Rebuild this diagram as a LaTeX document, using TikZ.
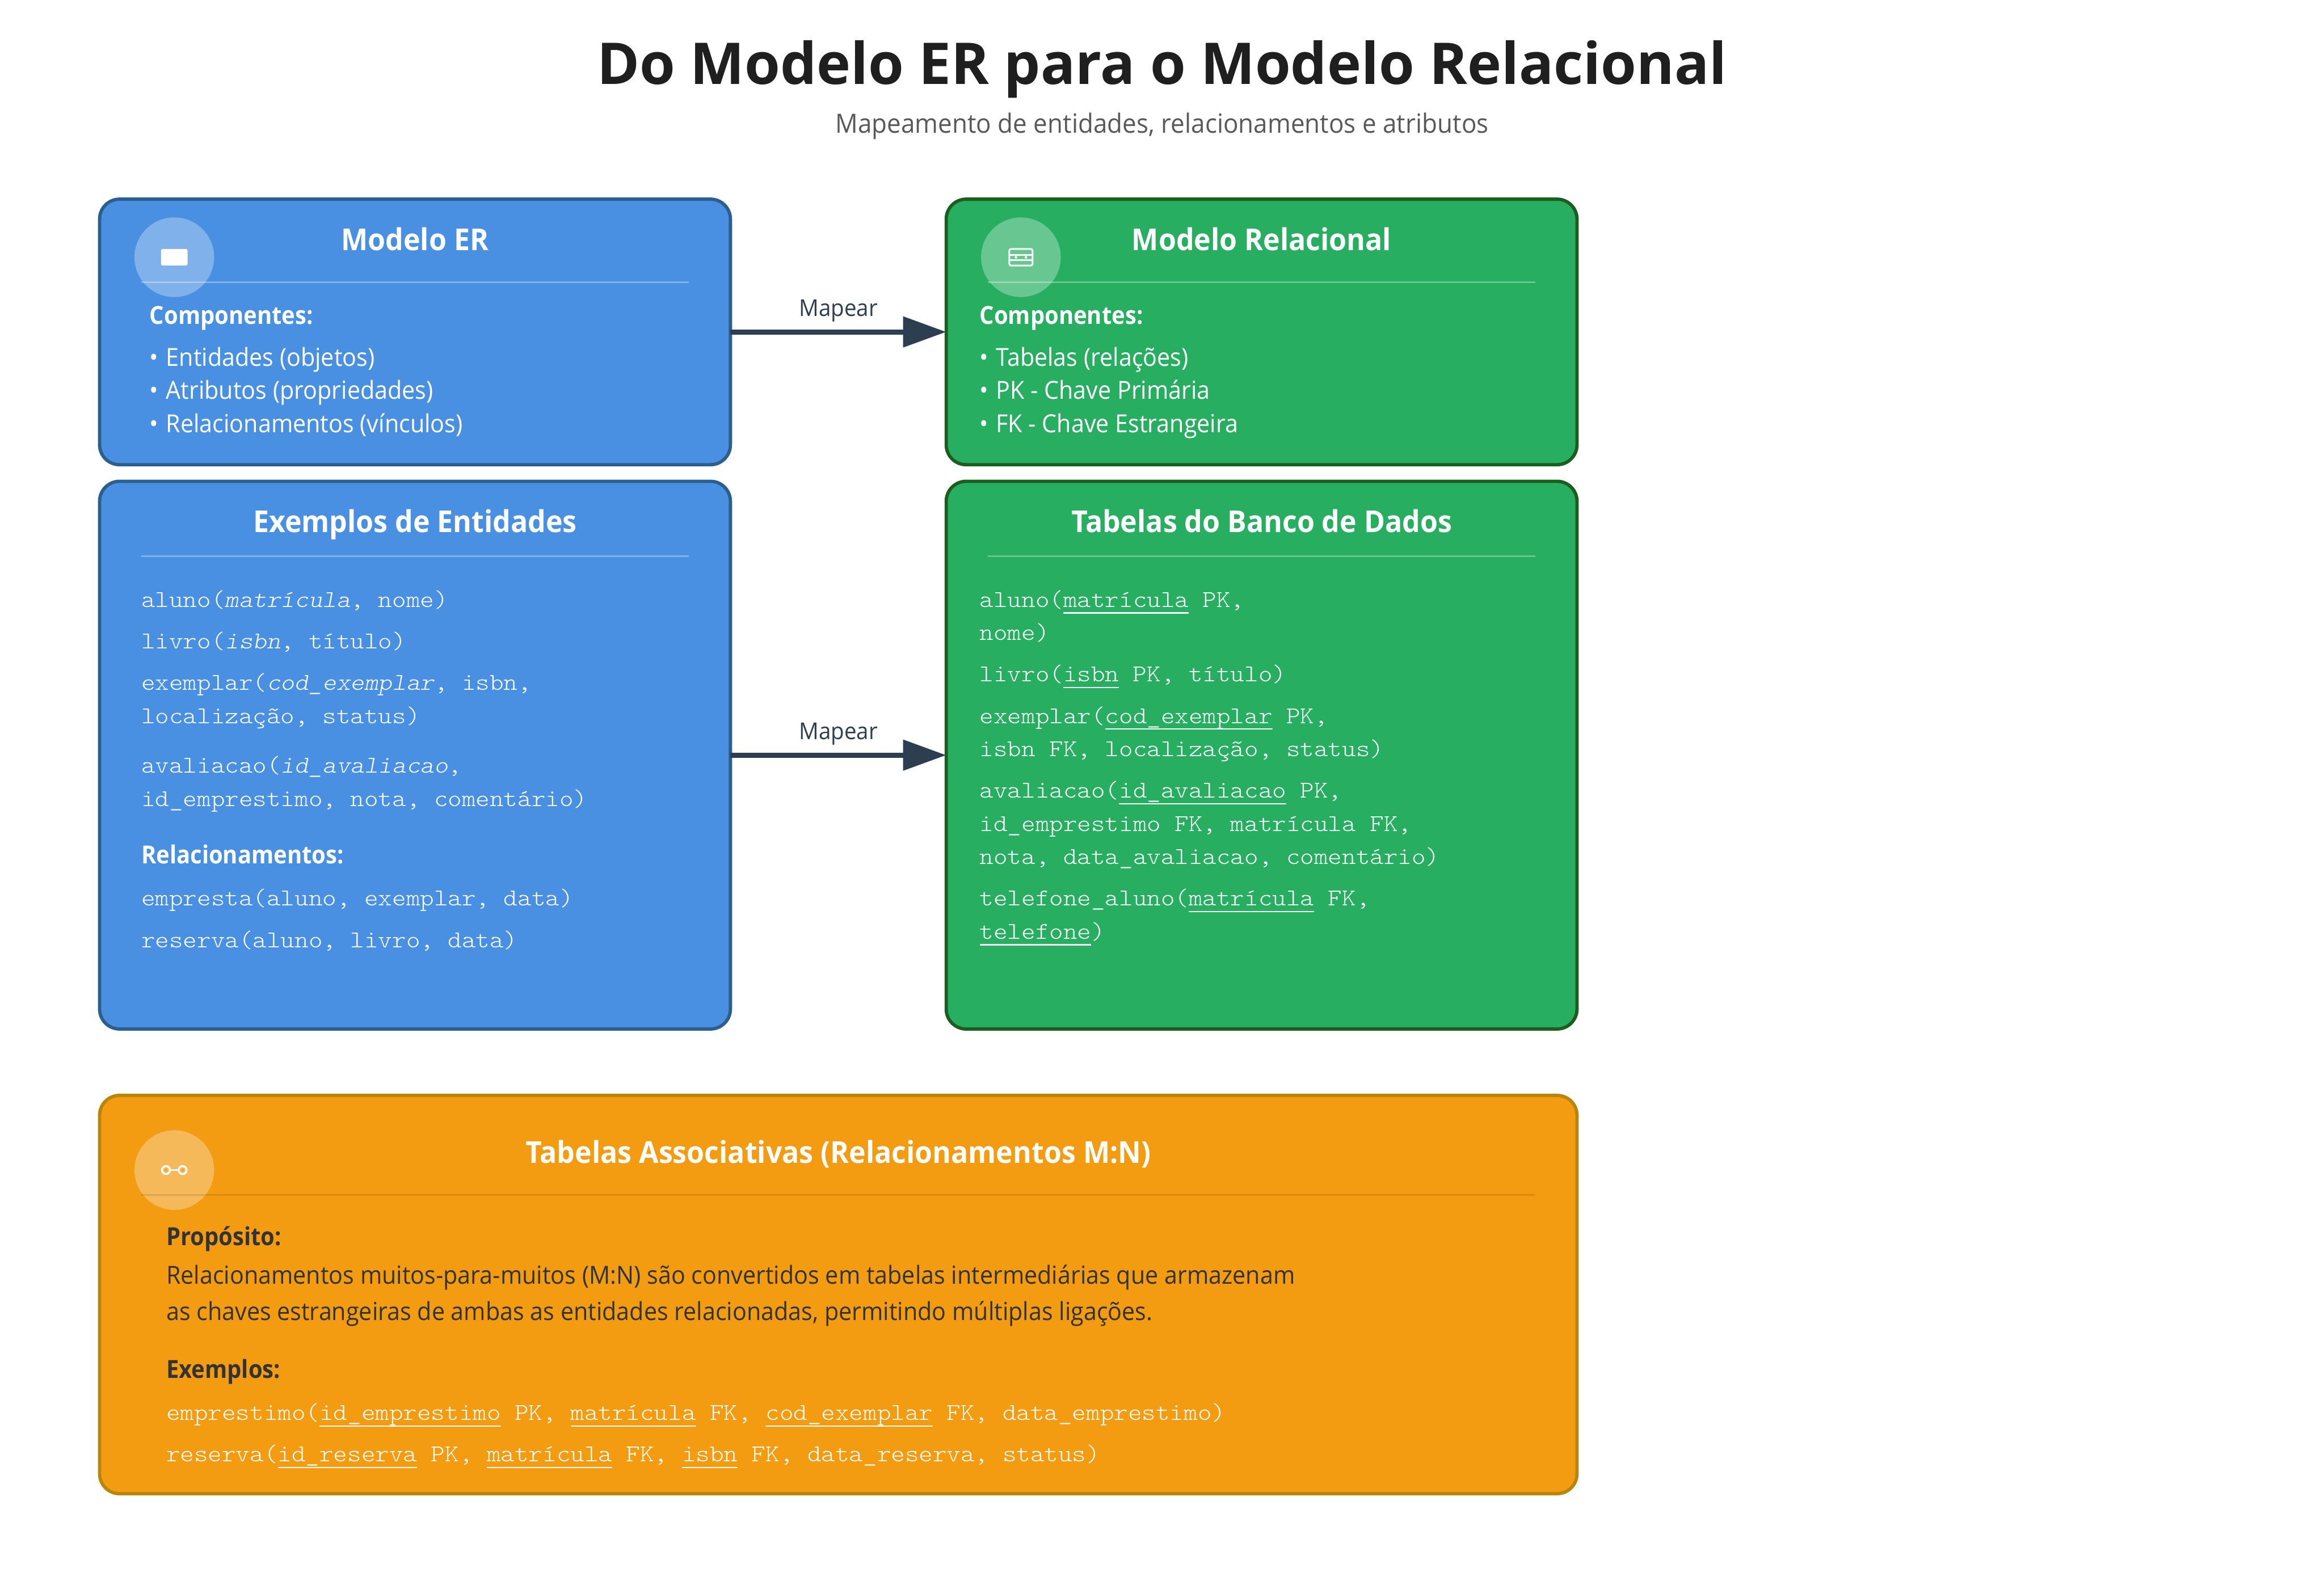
\documentclass[tikz,border=0pt]{standalone}
\usepackage{fontspec}
\setmainfont[FakeStretch=0.94]{Open Sans}
\setmonofont[FakeStretch=1.103]{Latin Modern Mono Light}
\newfontfamily\grande{Open Sans}
\newfontfamily\semi[FakeStretch=0.91]{Open Sans}
\usetikzlibrary{arrows.meta,calc}
\definecolor{azul}{HTML}{4A90E2}
\definecolor{azulborda}{HTML}{2C5F8D}
\definecolor{verde}{HTML}{27AE60}
\definecolor{verdeborda}{HTML}{1B5E20}
\definecolor{laranja}{HTML}{F39C12}
\definecolor{laranjaborda}{HTML}{B8860B}
\definecolor{seta}{HTML}{2C3E50}
\definecolor{escuro}{HTML}{333333}
\newcommand{\chave}[1]{\setbox0\hbox{#1}\rlap{\rule[-3.9pt]{\wd0}{0.8pt}}\box0\relax}
\begin{document}
\begin{tikzpicture}[
    x=1pt, y=-1pt,
    bloco/.style={draw, line width=2pt, rounded corners=12pt, inner sep=0pt, outer sep=0pt, anchor=north west},
    blocoazul/.style={bloco, fill=azul, draw=azulborda},
    blocoverde/.style={bloco, fill=verde, draw=verdeborda},
    blocolaranja/.style={bloco, fill=laranja, draw=laranjaborda},
    titulo/.style={anchor=base, inner sep=0pt, yshift=-0.8pt, text=white, font=\fontsize{18.2}{22}\selectfont\bfseries},
    subtit/.style={anchor=base west, inner sep=0pt, yshift=-0.3pt, text=white, font=\fontsize{15}{19}\selectfont\semi\bfseries},
    corpo/.style={anchor=base west, inner sep=0pt, yshift=-0.5pt, text=white, font=\fontsize{15}{19}\selectfont},
    codigo/.style={anchor=base west, inner sep=0pt, yshift=-0.8pt, text=white, font=\fontsize{14.5}{17}\selectfont\ttfamily},
    divisor/.style={line width=1pt, white, opacity=0.3},
    selo/.style={fill=white, opacity=0.3},
    seta mapa/.style={line width=3pt, seta, -{Triangle[length=26pt,width=18pt]}},
    rotulo/.style={above=4.7pt, inner sep=0pt, text=seta, font=\fontsize{14}{17}\selectfont}
]
\useasboundingbox (0,0) rectangle (1400,950);
\fill[white] (0,0) rectangle (1400,950);
\node[anchor=base, inner sep=0pt, yshift=-0.8pt, text=black!88, font=\fontsize{34.7}{42}\selectfont\grande\bfseries] (titulo geral) at (700,50) {Do Modelo ER para o Modelo Relacional};
\node[anchor=base, inner sep=0pt, text=black!65, font=\fontsize{16}{20}\selectfont] (subtitulo) at (700,80) {Mapeamento de entidades, relacionamentos e atributos};

% caixas
\node[blocoazul, minimum width=380pt, minimum height=160pt] (er) at (60,120) {};
\node[blocoverde, minimum width=380pt, minimum height=160pt] (rel) at (570,120) {};
\node[blocoazul, minimum width=380pt, minimum height=330pt] (ent) at (60,290) {};
\node[blocoverde, minimum width=380pt, minimum height=330pt] (tab) at (570,290) {};
\node[blocolaranja, minimum width=890pt, minimum height=240pt] (assoc) at (60,660) {};

% setas
\draw[seta mapa] (er.east) -- node[rotulo] (mapa1) {Mapear} (rel.west);
\draw[seta mapa] (ent.east) -- node[rotulo] (mapa2) {Mapear} (tab.west);

% icones
\fill[selo] (105,155) circle (24);
\fill[selo] (615,155) circle (24);
\fill[selo] (105,705) circle (24);
\fill[white, rounded corners=1pt] (97,150) rectangle (113,160);
\draw[white, line width=1pt, rounded corners=1pt] (608,150) rectangle (622,160);
\draw[white, line width=1pt] (608,153.6) -- (622,153.6);
\draw[white, line width=1pt] (608,156.7) -- (622,156.7);
\fill[white] (612,155) circle (0.8) (618,155) circle (0.8);
\draw[white, line width=1.2pt] (100,705) circle (2.4) (110,705) circle (2.4);
\draw[white, line width=1pt] (102.5,705) -- (107.5,705);
\fill[laranja] (100,705) circle (0.7) (110,705) circle (0.7);

% modelo ER
\node[titulo] (tit er) at (250,150) {Modelo ER};
\draw[divisor] (85,170) -- (415,170);
\node[subtit] (comp er) at (90,195) {Componentes:};
\node[corpo] (er a) at (90,220) {•\kern.9pt{} Entidades (objetos)};
\node[corpo] (er b) at (90,240) {•\kern.9pt{} Atributos (propriedades)};
\node[corpo] (er c) at (90,260) {•\kern.9pt{} Relacionamentos (vínculos)};

% modelo relacional
\node[titulo] (tit rel) at (760,150) {Modelo Relacional};
\draw[divisor] (595,170) -- (925,170);
\node[subtit] (comp rel) at (590,195) {Componentes:};
\node[corpo] (rel a) at (590,220) {•\kern.9pt{} Tabelas (relações)};
\node[corpo] (rel b) at (590,240) {•\kern.9pt{} PK - Chave Primária};
\node[corpo] (rel c) at (590,260) {•\kern.9pt{} FK - Chave Estrangeira};

% entidades
\node[titulo] (tit ent) at (250,320) {Exemplos de Entidades};
\draw[divisor] (85,335) -- (415,335);
\node[codigo] (ent a) at (85,365) {aluno(\textit{matrícula}, nome)};
\node[codigo] (ent b) at (85,390) {livro(\textit{isbn}, título)};
\node[codigo] (ent c) at (85,415) {exemplar(\textit{cod\_exemplar}, isbn,};
\node[codigo] (ent d) at (85,435) {localização, status)};
\node[codigo] (ent e) at (85,465) {avaliacao(\textit{id\_avaliacao},};
\node[codigo] (ent f) at (85,485) {id\_emprestimo, nota, comentário)};
\node[subtit] (tit relac) at (85,520) {Relacionamentos:};
\node[codigo] (ent g) at (85,545) {empresta(aluno, exemplar, data)};
\node[codigo] (ent h) at (85,570) {reserva(aluno, livro, data)};

% tabelas
\node[titulo] (tit tab) at (760,320) {Tabelas do Banco de Dados};
\draw[divisor] (595,335) -- (925,335);
\node[codigo] (tab a) at (590,365) {aluno(\chave{matrícula} PK,};
\node[codigo] (tab b) at (590,385) {nome)};
\node[codigo] (tab c) at (590,410) {livro(\chave{isbn} PK, título)};
\node[codigo] (tab d) at (590,435) {exemplar(\chave{cod\_exemplar} PK,};
\node[codigo] (tab e) at (590,455) {isbn FK, localização, status)};
\node[codigo] (tab f) at (590,480) {avaliacao(\chave{id\_avaliacao} PK,};
\node[codigo] (tab g) at (590,500) {id\_emprestimo FK, matrícula FK,};
\node[codigo] (tab h) at (590,520) {nota, data\_avaliacao, comentário)};
\node[codigo] (tab i) at (590,545) {telefone\_aluno(\chave{matrícula} FK,};
\node[codigo] (tab j) at (590,565) {\chave{telefone})};

% tabelas associativas
\node[titulo] (tit assoc) at (505,700) {Tabelas Associativas (Relacionamentos M:N)};
\draw[line width=1pt, black, opacity=0.1] (85,720) -- (925,720);
\node[subtit, text=escuro] (prop) at (100,750) {Propósito:};
\node[corpo, text=escuro] (prop a) at (100,773) {Relacionamentos muitos-para-muitos (M:N) são convertidos em tabelas intermediárias que armazenam};
\node[corpo, text=escuro] (prop b) at (100,795) {as chaves estrangeiras de ambas as entidades relacionadas, permitindo múltiplas ligações.};
\node[subtit, text=escuro] (exem) at (100,830) {Exemplos:};
\node[codigo] (exem a) at (100,855) {emprestimo(\chave{id\_emprestimo} PK, \chave{matrícula} FK, \chave{cod\_exemplar} FK, data\_emprestimo)};
\node[codigo] (exem b) at (100,880) {reserva(\chave{id\_reserva} PK, \chave{matrícula} FK, \chave{isbn} FK, data\_reserva, status)};
\end{tikzpicture}
\end{document}
